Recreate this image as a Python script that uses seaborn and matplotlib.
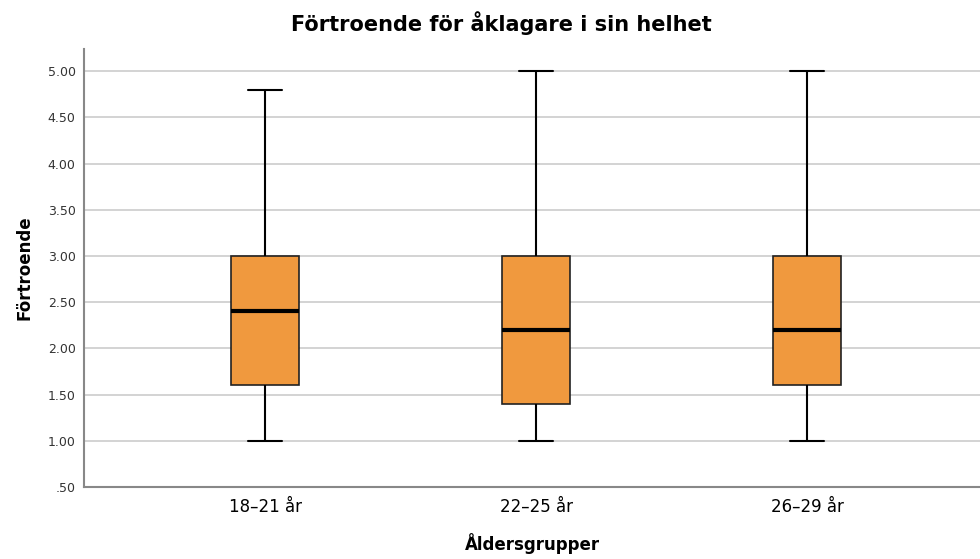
import pandas as pd
import numpy as np
import matplotlib
matplotlib.use("Agg")
import matplotlib.pyplot as plt
import seaborn as sns

# five-number values (min, Q1, median, Q3, max) per group
groups = ["18–21 år", "22–25 år", "26–29 år"]
scores_18_21 = [1.0, 1.6, 2.4, 3.0, 4.8]
scores_22_25 = [1.0, 1.4, 2.2, 3.0, 5.0]
scores_26_29 = [1.0, 1.6, 2.2, 3.0, 5.0]
yticks = [0.5, 1.0, 1.5, 2.0, 2.5, 3.0, 3.5, 4.0, 4.5, 5.0]
ytick_labels = [".50", "1.00", "1.50", "2.00", "2.50", "3.00", "3.50", "4.00", "4.50", "5.00"]

df = pd.DataFrame({
    "Åldersgrupper": [groups[0]] * 5 + [groups[1]] * 5 + [groups[2]] * 5,
    "Förtroende": scores_18_21 + scores_22_25 + scores_26_29,
})

sns.set_style("white")
plt.rcParams["font.family"] = ["DejaVu Sans"]
plt.rcParams["text.color"] = "black"
plt.rcParams["axes.labelcolor"] = "black"

fig = plt.figure(figsize=(9.8, 5.59), dpi=100)
ax = fig.add_axes([0.0857, 0.1288, 0.9143, 0.7835])

for y in yticks[1:]:
    ax.axhline(y, color="#cccccc", lw=1.2, zorder=0)

sns.boxplot(data=df, x="Åldersgrupper", y="Förtroende", order=groups,
            color="#F0993E", saturation=1, width=0.25, whis=(0, 100),
            linecolor="#222222", linewidth=1.2, ax=ax,
            medianprops=dict(color="black", linewidth=3, zorder=5),
            whiskerprops=dict(color="black", linewidth=1.5),
            capprops=dict(color="black", linewidth=1.5))

ax.set_xlim(-0.668, 2.638)
ax.set_ylim(0.5, 5.24)
ax.set_yticks(yticks)
ax.set_yticklabels(ytick_labels, fontsize=9, color="#333333")
ax.tick_params(axis="x", labelsize=12, length=0, pad=8, labelcolor="black")
ax.tick_params(axis="y", length=0, pad=6)

for side in ["top", "right"]:
    ax.spines[side].set_visible(False)
for side in ["left", "bottom"]:
    ax.spines[side].set_color("#888888")
    ax.spines[side].set_linewidth(1.5)

ax.set_xlabel("Åldersgrupper", fontsize=12, fontweight="bold", labelpad=12)
ax.set_ylabel("Förtroende", fontsize=12, fontweight="bold", labelpad=10)
fig.suptitle("Förtroende för åklagare i sin helhet", fontsize=15, fontweight="bold",
             x=0.512, y=0.98, color="black")

fig.savefig("out.png", dpi=100)
